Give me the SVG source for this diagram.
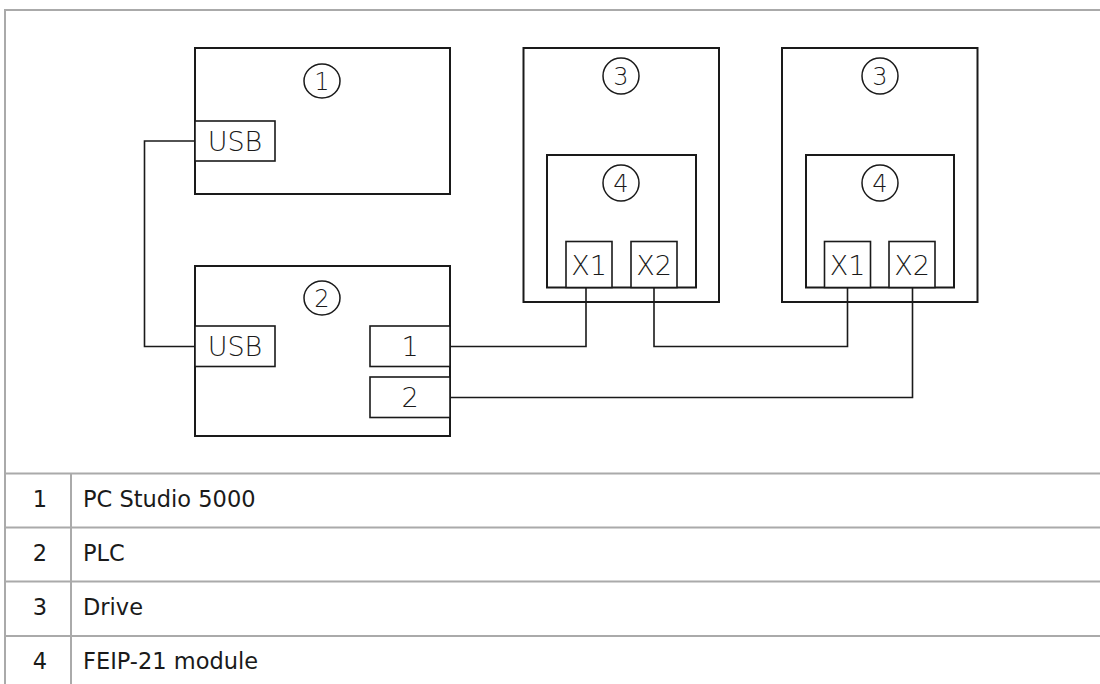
<svg xmlns="http://www.w3.org/2000/svg" width="1100" height="684" viewBox="0 0 1100 684">
<style>
.box{fill:none;stroke:#1a1a1a;stroke-width:2}
.port{fill:#fff;stroke:#1a1a1a;stroke-width:1.6}
.num{fill:none;stroke:#1a1a1a;stroke-width:1.5}
.lbl{font-family:"DejaVu Sans",sans-serif;font-size:27px;fill:#1a1a1a;text-anchor:middle;font-weight:300}
.cn{font-family:"DejaVu Sans",sans-serif;font-size:24px;fill:#1a1a1a;text-anchor:middle;font-weight:300}
.wire{fill:none;stroke:#1a1a1a;stroke-width:1.6}
.grid{fill:none;stroke:#aaaaaa;stroke-width:2}
.tx{font-family:"DejaVu Sans",sans-serif;font-size:22.5px;fill:#1a1a1a}
.tn{font-family:"DejaVu Sans",sans-serif;font-size:22.5px;fill:#1a1a1a;text-anchor:middle}
</style>
<rect width="1100" height="684" fill="#fff"/>
<g id="frame">
<path class="grid" d="M1100 10H5V684"/>
<path class="grid" d="M5 473.5H1100M5 527.5H1100M5 581.5H1100M5 636H1100M71 473.5V684"/>
</g>
<g id="connectors">
<path class="wire" d="M195 141H144.5V346.5H195"/>
<path class="wire" d="M450 346.5H586V287"/>
<path class="wire" d="M654 287V346.5H847.5V287"/>
<path class="wire" d="M450 397.5H912.5V287"/>
</g>
<g id="node-pc">
<rect class="box" x="195" y="48" width="255" height="146"/>
<ellipse class="num" cx="322" cy="81" rx="18" ry="17"/>
<text class="cn" x="322" y="89.5">1</text>
<rect class="port" x="195" y="121" width="80" height="40"/>
<text class="lbl" x="235" y="151">USB</text>
</g>
<g id="node-plc">
<rect class="box" x="195" y="266" width="255" height="170"/>
<ellipse class="num" cx="322" cy="298" rx="18" ry="17"/>
<text class="cn" x="322" y="306.5">2</text>
<rect class="port" x="195" y="326" width="80" height="40.5"/>
<text class="lbl" x="235" y="356">USB</text>
<rect class="port" x="370" y="326" width="80" height="40.5"/>
<text class="lbl" x="410" y="356">1</text>
<rect class="port" x="370" y="377" width="80" height="40.5"/>
<text class="lbl" x="410" y="407">2</text>
</g>
<g id="node-drive-a">
<rect class="box" x="523.5" y="48" width="195.5" height="254"/>
<ellipse class="num" cx="621" cy="76" rx="18" ry="18"/>
<text class="cn" x="621" y="84.5">3</text>
<rect class="box" x="547" y="155" width="149" height="132.5"/>
<ellipse class="num" cx="621" cy="183" rx="18" ry="18"/>
<text class="cn" x="621" y="191.5">4</text>
<rect class="port" x="566" y="241.5" width="46" height="46"/>
<text class="lbl" x="589" y="275">X1</text>
<rect class="port" x="631" y="241.5" width="46" height="46"/>
<text class="lbl" x="654" y="275">X2</text>
</g>
<g id="node-drive-b">
<rect class="box" x="782" y="48" width="195.5" height="254"/>
<ellipse class="num" cx="880" cy="76" rx="18" ry="18"/>
<text class="cn" x="880" y="84.5">3</text>
<rect class="box" x="806" y="155" width="148" height="132.5"/>
<ellipse class="num" cx="880" cy="183" rx="18" ry="18"/>
<text class="cn" x="880" y="191.5">4</text>
<rect class="port" x="824.5" y="241.5" width="46" height="46"/>
<text class="lbl" x="847.5" y="275">X1</text>
<rect class="port" x="889" y="241.5" width="46" height="46"/>
<text class="lbl" x="912" y="275">X2</text>
</g>
<g id="legend">
<text class="tn" x="40" y="507">1</text><text class="tx" x="83" y="507">PC Studio 5000</text>
<text class="tn" x="40" y="561">2</text><text class="tx" x="83" y="561">PLC</text>
<text class="tn" x="40" y="615">3</text><text class="tx" x="83" y="615">Drive</text>
<text class="tn" x="40" y="669">4</text><text class="tx" x="83" y="669">FEIP-21 module</text>
</g>
</svg>
